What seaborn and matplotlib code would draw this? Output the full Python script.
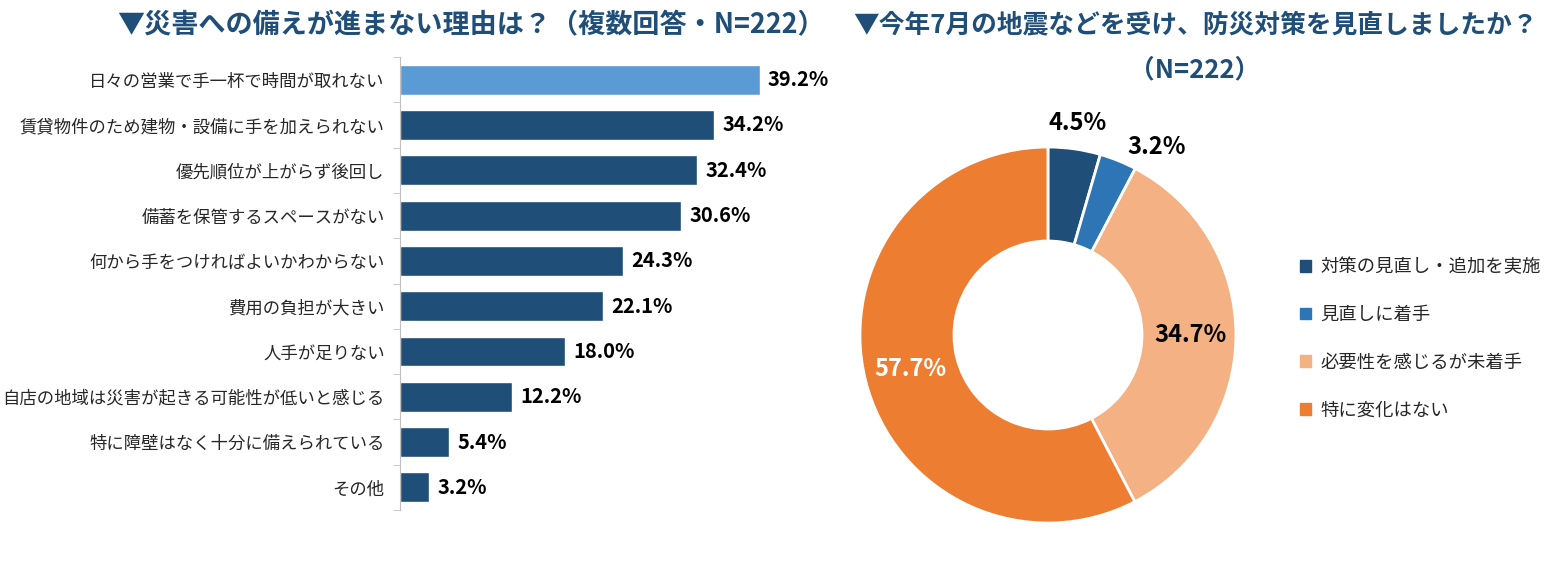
import matplotlib
matplotlib.use('Agg')
import matplotlib.pyplot as plt
import seaborn as sns
import pandas as pd

sns.set_style('white')
plt.rcParams['font.family'] = ['Noto Sans CJK JP', 'DejaVu Sans']

# 左：災害への備えが進まない理由
reasons = ['日々の営業で手一杯で時間が取れない', '賃貸物件のため建物・設備に手を加えられない',
           '優先順位が上がらず後回し', '備蓄を保管するスペースがない',
           '何から手をつければよいかわからない', '費用の負担が大きい', '人手が足りない',
           '自店の地域は災害が起きる可能性が低いと感じる', '特に障壁はなく十分に備えられている', 'その他']
reason_pct = [39.2, 34.2, 32.4, 30.6, 24.3, 22.1, 18.0, 12.2, 5.4, 3.2]

# 右：防災対策の見直し
review_labels = ['対策の見直し・追加を実施', '見直しに着手', '必要性を感じるが未着手', '特に変化はない']
review_pct = [4.5, 3.2, 34.7, 57.7]

navy = '#1F4E79'
title_color = '#1F4E79'
bar_colors = ['#5B9BD5'] + [navy] * (len(reasons) - 1)
pie_colors = ['#1F4E79', '#2E75B6', '#F4B183', '#ED7D31']

fig = plt.figure(figsize=(15.5, 5.62), dpi=100)

# ---- 棒グラフ ----
ax1 = fig.add_axes([0.258, 0.0925, 0.2665, 0.806])
df = pd.DataFrame({'理由': reasons, '割合': reason_pct})
sns.barplot(data=df, y='理由', x='割合', hue='理由', palette=bar_colors,
            legend=False, width=0.66, ax=ax1, saturation=1)
ax1.set_xlim(0, 45)
ax1.set_ylim(len(reasons) - 0.5, -0.5)
ax1.set_xlabel('')
ax1.set_ylabel('')
ax1.set_xticks([])
for s in ['top', 'right', 'bottom']:
    ax1.spines[s].set_visible(False)
ax1.spines['left'].set_color('#BFBFBF')
ax1.tick_params(axis='y', length=0, labelsize=12.5, pad=11)
ax1.set_yticks([i + 0.5 for i in range(-1, len(reasons))], minor=True)
ax1.tick_params(axis='y', which='minor', length=5, color='#BFBFBF', left=True)
for i, v in enumerate(reason_pct):
    ax1.text(v + 0.9, i, f'{v:.1f}%', va='center', ha='left',
             fontsize=14.5, fontweight='bold', color='#000000')
fig.text(0.304, 0.955, '▼災害への備えが進まない理由は？（複数回答・N=222）',
         ha='center', va='center', fontsize=19.5, fontweight='bold', color=title_color)

# ---- ドーナツグラフ ----
ax2 = fig.add_axes([0.5548, 0.0694, 0.2426, 0.669])
wedges, _ = ax2.pie(review_pct, colors=pie_colors, startangle=90, counterclock=False,
                    radius=1, wedgeprops=dict(width=0.5, edgecolor='white', linewidth=2))
ax2.set_xlim(-1, 1)
ax2.set_ylim(-1, 1)
ax2.set_aspect('equal')

label_pos = [(0.16, 1.13), (0.58, 1.0), (0.76, 0.0), (-0.73, -0.18)]
label_col = ['#000000', '#000000', '#000000', '#FFFFFF']
for (x, y), v, c in zip(label_pos, review_pct, label_col):
    ax2.text(x, y, f'{v:.1f}%', ha='center', va='center', fontsize=17,
             fontweight='bold', color=c)

fig.text(0.771, 0.955, '▼今年7月の地震などを受け、防災対策を見直しましたか？',
         ha='center', va='center', fontsize=18.5, fontweight='bold', color=title_color)
fig.text(0.771, 0.875, '（N=222）',
         ha='center', va='center', fontsize=18.5, fontweight='bold', color=title_color)

handles = [plt.Rectangle((0, 0), 1, 1, color=c) for c in pie_colors]
fig.legend(handles, review_labels, loc='center left', bbox_to_anchor=(0.828, 0.397),
           frameon=False, fontsize=13.2, handlelength=0.6, handleheight=0.6,
           handletextpad=0.5, labelspacing=1.62)

fig.savefig('out.png', dpi=100)
